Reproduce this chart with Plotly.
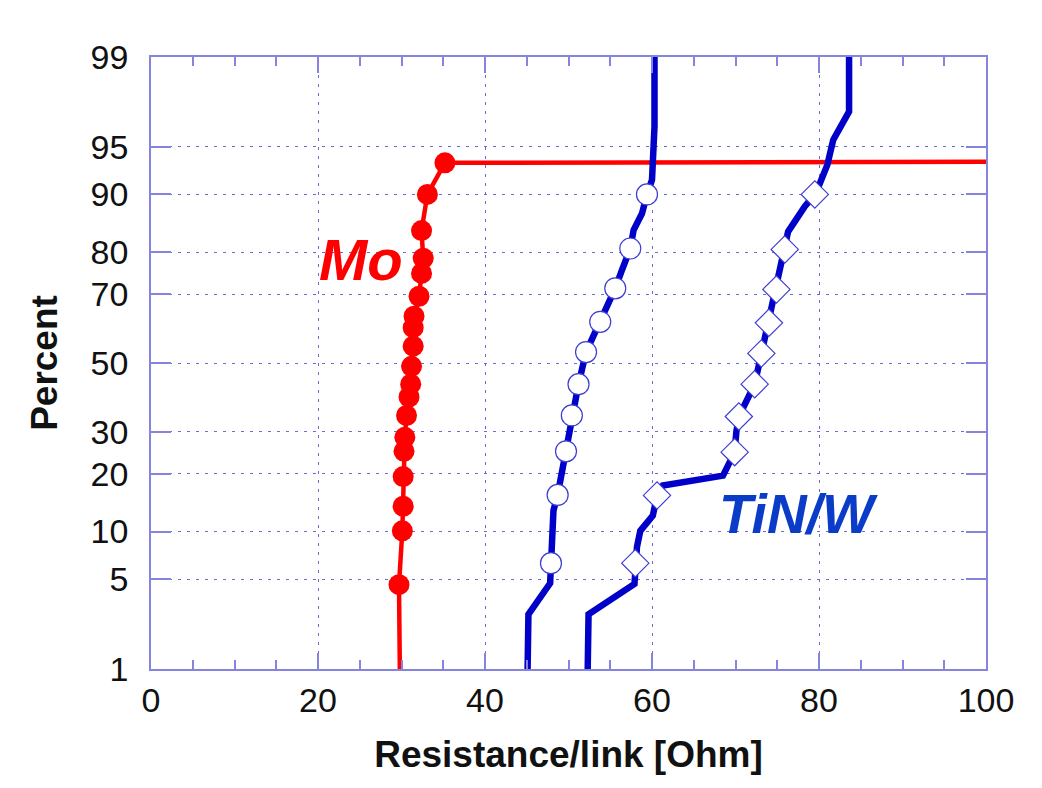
from statistics import NormalDist
import plotly.graph_objects as go

# ---- data (percent on normal-probability scale, resistance in Ohm) ----
mo_x = [29.7, 30.1, 30.2, 30.2, 30.3, 30.4, 30.6, 30.9, 31.1, 31.2, 31.4, 31.4,
        31.5, 32.1, 32.4, 32.6, 32.4, 33.1, 35.2]
mo_p = [4.6, 10.1, 13.8, 19.4, 25.1, 28.6, 34.5, 39.8, 43.6, 49.0, 55.1, 60.6,
        63.9, 69.4, 75.2, 78.7, 84.3, 90.0, 93.6]
mo_tail_start = [29.8, 1.0]      # line continues down to the axis
mo_tail_end = [100.0, 93.7]      # open links -> horizontal line

circ_line_x = [45.1, 45.2, 47.8, 47.9, 48.2, 48.7, 49.7, 50.4, 51.2, 52.1, 53.8,
               55.6, 56.4, 57.4, 57.8, 58.8, 59.4, 60.0, 60.3, 60.3]
circ_line_p = [1.0, 2.8, 4.7, 6.4, 13.1, 15.8, 25.1, 34.5, 43.6, 53.3, 62.3,
               71.5, 76.0, 80.8, 84.4, 87.2, 90.0, 91.8, 96.4, 99.0]
circ_x = [47.9, 48.7, 49.7, 50.4, 51.2, 52.1, 53.8, 55.6, 57.4, 59.4]
circ_p = [6.4, 15.8, 25.1, 34.5, 43.6, 53.3, 62.3, 71.5, 80.8, 90.0]

dia_line_x = [52.3, 52.4, 57.9, 58.0, 58.2, 58.6, 60.1, 60.6, 61.3, 68.5, 69.9,
              70.1, 70.4, 72.3, 73.1, 74.0, 74.9, 75.5, 75.9, 76.3, 78.3, 79.5,
              80.1, 81.0, 81.7, 83.6, 83.6]
dia_line_p = [1.0, 2.8, 4.65, 6.4, 8.1, 10.1, 12.3, 15.7, 17.6, 19.6, 24.9,
              30.0, 34.2, 43.6, 52.9, 62.0, 71.2, 76.4, 80.6, 84.1, 88.3, 90.0,
              91.4, 93.4, 95.5, 97.2, 99.0]
dia_x = [58.0, 60.6, 69.9, 70.4, 72.3, 73.1, 74.0, 74.9, 75.9, 79.5]
dia_p = [6.4, 15.7, 24.9, 34.2, 43.6, 52.9, 62.0, 71.2, 80.6, 90.0]

y_ticks = [1, 5, 10, 20, 30, 50, 70, 80, 90, 95, 99]
x_ticks = [0, 20, 40, 60, 80, 100]

# ---- helpers ----
nd = NormalDist()


def z(plist):
    return [nd.inv_cdf(p / 100.0) for p in plist]


RED = "#ff0000"
BLUE = "#0000c8"
FRAME = "#8585e0"
GRID = "#6a6ad6"

fig = go.Figure()

# Mo
fig.add_trace(go.Scatter(
    x=[mo_tail_start[0]] + mo_x + [mo_tail_end[0]],
    y=z([mo_tail_start[1]] + mo_p + [mo_tail_end[1]]),
    mode="lines", line=dict(color=RED, width=4.5), hoverinfo="skip"))
fig.add_trace(go.Scatter(
    x=mo_x, y=z(mo_p), mode="markers",
    marker=dict(symbol="circle", size=21, color=RED, line=dict(width=0))))

# blue circles
fig.add_trace(go.Scatter(
    x=circ_line_x, y=z(circ_line_p), mode="lines",
    line=dict(color=BLUE, width=6.5), hoverinfo="skip"))
fig.add_trace(go.Scatter(
    x=circ_x, y=z(circ_p), mode="markers",
    marker=dict(symbol="circle", size=21, color="white",
                line=dict(color="#3c3cd4", width=1.2))))

# TiN/W diamonds
fig.add_trace(go.Scatter(
    x=dia_line_x, y=z(dia_line_p), mode="lines",
    line=dict(color=BLUE, width=6.5), hoverinfo="skip"))
fig.add_trace(go.Scatter(
    x=dia_x, y=z(dia_p), mode="markers",
    marker=dict(symbol="diamond", size=21, color="white",
                line=dict(color="#3c3cd4", width=1.2))))

fig.add_annotation(x=25.2, y=nd.inv_cdf(0.785), xref="x", yref="y",
                   text="<b><i>Mo</i></b>", showarrow=False,
                   font=dict(family="Liberation Sans, Arial", size=58, color=RED))
fig.add_annotation(x=77.5, y=nd.inv_cdf(0.125), xref="x", yref="y",
                   text="<b><i>TiN/W</i></b>", showarrow=False,
                   font=dict(family="Liberation Sans, Arial", size=55, color="#0a3cc8"))

tickfont = dict(family="Liberation Sans, Arial", size=34, color="#111111")
titlefont = dict(family="Liberation Sans, Arial", size=37, color="#111111")

fig.update_xaxes(
    range=[0, 100], tickvals=x_ticks, ticktext=[str(v) for v in x_ticks],
    ticks="inside", ticklen=16, tickwidth=1.5, tickcolor=FRAME,
    minor=dict(tickvals=[v for v in range(5, 100, 5) if v % 20 != 0],
               ticks="inside", ticklen=9, tickwidth=1.5, tickcolor=FRAME,
               showgrid=False),
    showline=True, linecolor=FRAME, linewidth=1.5, mirror="ticks",
    showgrid=True, gridcolor=GRID, gridwidth=1.3, griddash="3px,6px",
    zeroline=False, tickfont=tickfont,
    title=dict(text="<b>Resistance/link [Ohm]</b>", font=titlefont, standoff=24),
)
fig.update_yaxes(
    range=[nd.inv_cdf(0.01), nd.inv_cdf(0.99)],
    tickvals=z(y_ticks), ticktext=[str(v) for v in y_ticks],
    ticks="inside", ticklen=20, tickwidth=1.5, tickcolor=FRAME,
    showline=True, linecolor=FRAME, linewidth=1.5, mirror="ticks",
    showgrid=True, gridcolor=GRID, gridwidth=1.3, griddash="3px,6px",
    zeroline=False, tickfont=tickfont, ticklabelstandoff=14,
    title=dict(text="<b>Percent</b>", font=titlefont, standoff=22),
)

fig.update_layout(
    width=1042, height=788,
    margin=dict(l=151, r=56, t=57, b=119),
    paper_bgcolor="white", plot_bgcolor="white",
    showlegend=False,
)

fig.write_html("out.html")
